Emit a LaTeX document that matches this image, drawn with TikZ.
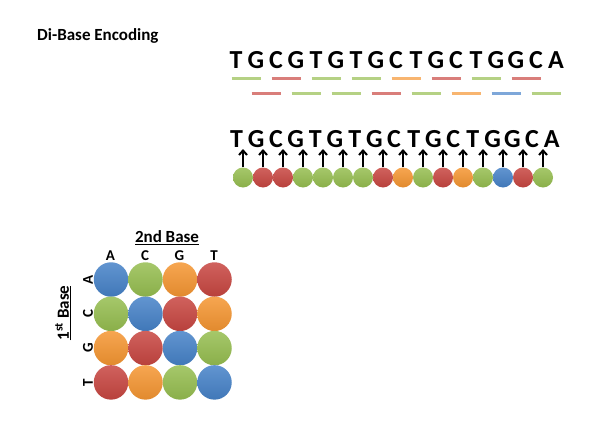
\documentclass[tikz,border=0pt]{standalone}
\usepackage{fontspec}
\setmainfont{Carlito}
\usetikzlibrary{positioning, arrows.meta, calc}
\definecolor{dbBlue}{RGB}{70,130,200}
\definecolor{dbRed}{RGB}{200,70,65}
\definecolor{dbGreen}{RGB}{150,190,80}
\definecolor{dbOrange}{RGB}{245,150,50}
\newcommand{\seqfont}{\fontsize{26}{26}\selectfont\bfseries}

\begin{document}
\begin{tikzpicture}[
  x=1pt, y=-1pt,
  seqletter/.style={font=\seqfont, inner sep=0pt, anchor=base},
  pairbar/.style={line width=3pt, draw=#1!70!white},
  dicircle/.style={circle, inner sep=0pt, minimum size=#1},
  dicol/.style={top color=#1!85!white, bottom color=#1!92!black},
  lbl/.style={font=\fontsize{15}{15}\selectfont\bfseries, inner sep=0pt},
  axis/.style={font=\fontsize{17}{17}\selectfont\bfseries, inner sep=0pt},
  arr/.style={-{Straight Barb[length=4.5pt, width=8pt]}, line width=2pt}
]
\fill[white] (0,0) rectangle (612,428);
\useasboundingbox (0,0) rectangle (612,428);

\node[font=\fontsize{17}{17}\selectfont\bfseries, inner sep=0pt, anchor=base west]
  (title) at (37,41) {Di-Base Encoding};

% sequence, written twice
\foreach \l [count=\i from 0] in {T,G,C,G,T,G,T,G,C,T,G,C,T,G,G,C,A} {
  \node[seqletter] (t\i) at (236+20*\i, 68.5) {\l};
  \node[seqletter] (u\i) at (236.5+19.7*\i, 147.5) {\l};
}

% one colour for each pair of bases
\foreach \c [count=\i from 0] in {dbGreen,dbRed,dbRed,dbGreen,dbGreen,dbGreen,dbGreen,dbRed,
                                  dbOrange,dbGreen,dbRed,dbOrange,dbGreen,dbBlue,dbRed,dbGreen} {
  \pgfmathsetmacro{\ybar}{mod(\i,2)==0 ? 78.3 : 93.3}
  \draw[pairbar=\c] (231.5+20*\i, \ybar) -- ++(29,0);
  \node[dicircle=20pt, dicol=\c] (c\i) at (243+20*\i, 177.5) {};
  \coordinate (h\i) at (243+20*\i, 149);
  \draw[arr] (c\i) -- (h\i);
}

% encoding matrix
\node[axis] (second) at (167,238) {\underline{2nd Base}};
\node[axis, rotate=90] (first) at (63,313) {\underline{1\textsuperscript{st} Base}};
\foreach \b [count=\j from 0] in {A,C,G,T} {
  \node[lbl] (col\j) at (110.5+34.5*\j, 256) {\b};
  \node[lbl, rotate=90] (row\j) at (88, 279.5+34.3*\j) {\b};
}
\foreach \c [count=\k from 0] in {dbBlue,dbGreen,dbOrange,dbRed,
                                  dbGreen,dbBlue,dbRed,dbOrange,
                                  dbOrange,dbRed,dbBlue,dbGreen,
                                  dbRed,dbOrange,dbGreen,dbBlue} {
  \pgfmathtruncatemacro{\r}{div(\k,4)}
  \pgfmathtruncatemacro{\s}{mod(\k,4)}
  \node[dicircle=34.5pt, dicol=\c] (m\r\s) at (111+34.5*\s, 279.5+34.3*\r) {};
}
\end{tikzpicture}
\end{document}
